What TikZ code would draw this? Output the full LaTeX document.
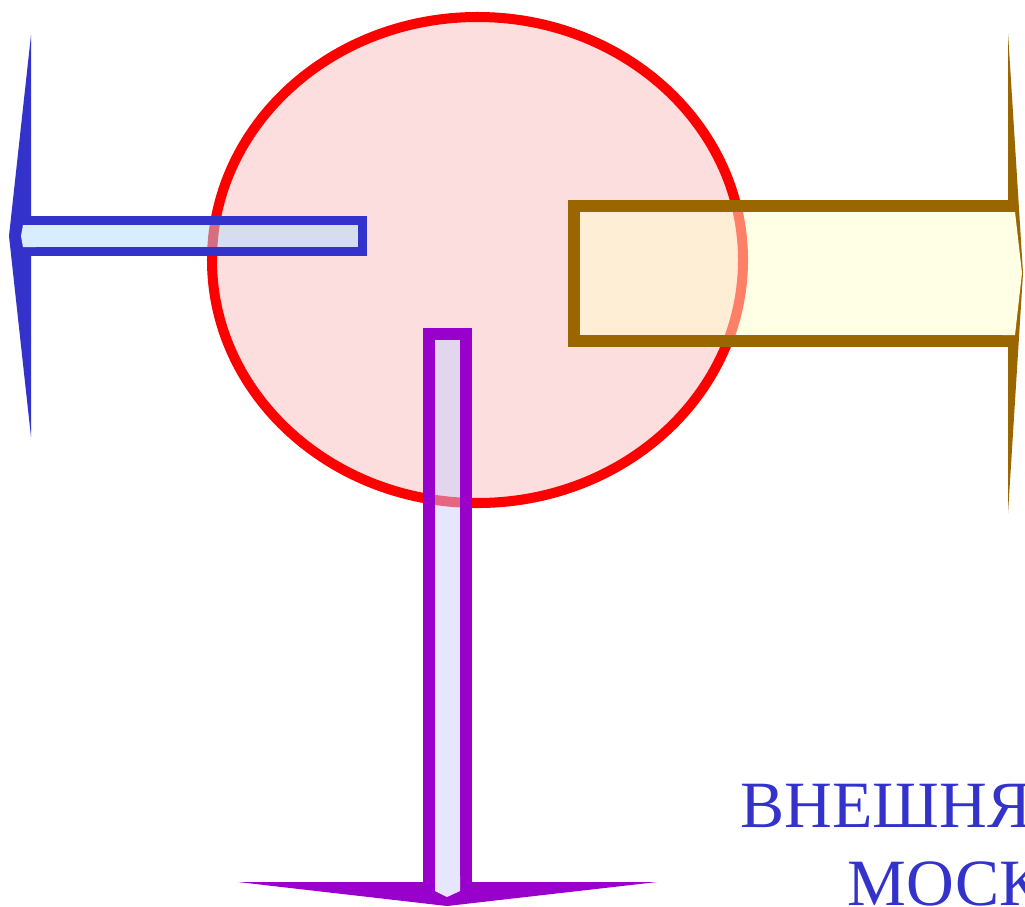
\documentclass[tikz,border=0pt]{standalone}
\usepackage{fontspec}
\setmainfont{Liberation Serif}
\usetikzlibrary{positioning}

\definecolor{corered}{HTML}{FF0000}
\definecolor{corepink}{HTML}{FDDEDE}
\definecolor{inblue}{HTML}{3333CC}
\definecolor{inpale}{HTML}{B1DDFF}
\definecolor{inpatch}{HTML}{D8EEFF}
\definecolor{outbrown}{HTML}{996600}
\definecolor{outpale}{HTML}{FFFFCD}
\definecolor{outpatch}{HTML}{FFFFE6}
\definecolor{downviolet}{HTML}{9900CC}
\definecolor{downpale}{HTML}{CDCDFF}
\definecolor{downpatch}{HTML}{E6E6FF}

\begin{document}
\begin{tikzpicture}[x=0.01cm, y=-0.01cm,
		shaft/.style={line width=#1, fill opacity=0.5},
		caption/.style={inner sep=0pt, text=inblue, font=\fontsize{18.8}{22}\selectfont}]

		% === figure bounds ===
		\useasboundingbox (0,0) rectangle (1025,906);

		% === Core ===
		\filldraw[draw=corered, fill=corepink, line width=2.85pt]
			(477.5,260) ellipse [x radius=265.5, y radius=243];

		% === Left arrow ===
		\filldraw[shaft=2.6pt, draw=inblue, fill=inpale] (31,220.5) rectangle (362.5,251.5);
		\fill[inblue] (31,35) -- (9,236) -- (31,437) -- cycle;
		\fill[inpatch] (36,225) -- (23,225) -- (21,236) -- (23,247) -- (36,247) -- cycle;

		% === Right arrow ===
		\filldraw[shaft=3.4pt, draw=outbrown, fill=outpale] (574,206) rectangle (1008,341);
		\fill[outbrown] (1008,33) -- (1023,273) -- (1008,513) -- cycle;
		\fill[outpatch] (1002,212) -- (1015,212) -- (1022,273) -- (1015,335) -- (1002,335) -- cycle;

		% === Down arrow ===
		\filldraw[shaft=3.4pt, draw=downviolet, fill=downpale] (429,334) rectangle (466,882);
		\fill[downviolet] (238,882) -- (447,906) -- (657,882) -- cycle;
		\fill[downpatch] (435,876) -- (435,891) -- (447,897) -- (460,891) -- (460,876) -- cycle;

		% === Caption ===
		\node[caption, anchor=base west] (outer) at (740,827) {ВНЕШНЯЯ};
		\node[caption, anchor=base west] (city) at (847,905) {МОСКВА};
	\end{tikzpicture}
\end{document}
